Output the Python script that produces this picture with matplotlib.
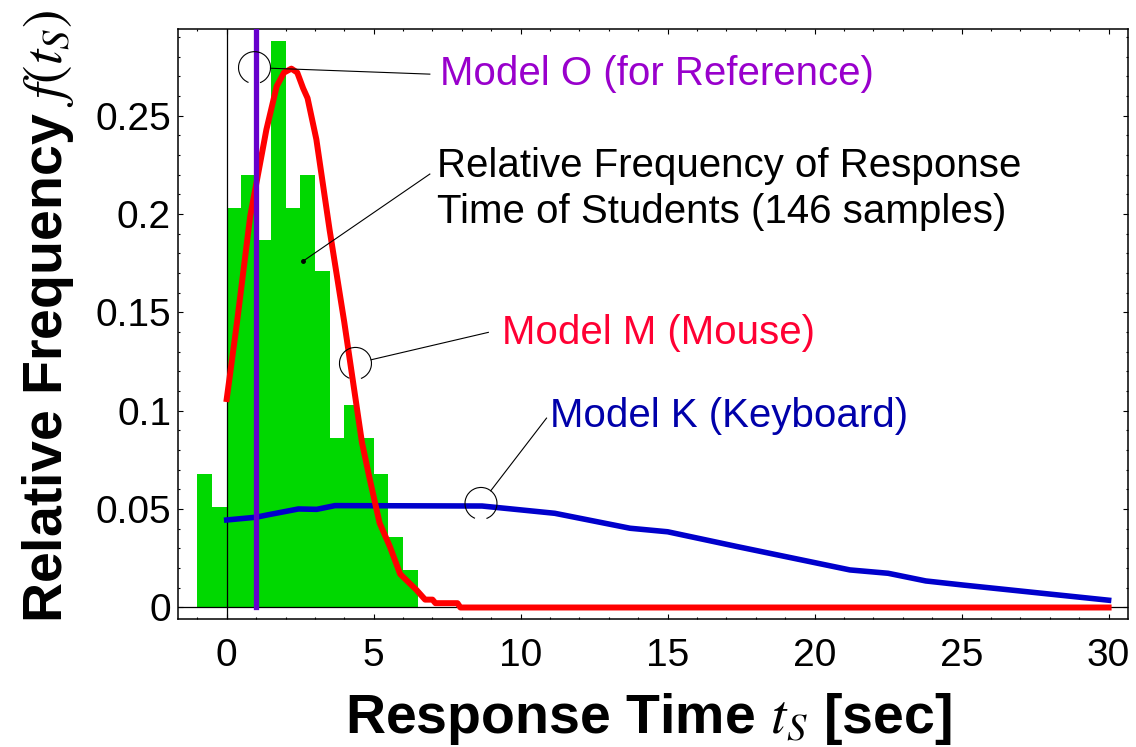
import matplotlib
matplotlib.use("Agg")
import matplotlib.pyplot as plt
import matplotlib.patches as mpatches
import matplotlib.transforms as mtransforms
from matplotlib.ticker import MultipleLocator, FuncFormatter
import numpy as np

plt.rcParams['font.family'] = ['Liberation Sans', 'DejaVu Sans']
plt.rcParams['mathtext.fontset'] = 'stix'

# relative frequency of student response times, bins of 0.5 s
bin_edges = [-1.0, -0.5, 0.0, 0.5, 1.0, 1.5, 2.0, 2.5, 3.0, 3.5, 4.0, 4.5, 5.0, 5.5, 6.0, 6.5]
rel_freq = [0.068, 0.051, 0.203, 0.220, 0.187, 0.288, 0.203, 0.220, 0.171,
            0.086, 0.103, 0.086, 0.068, 0.036, 0.019]

# Model M (mouse)
mouse_t = [0.0, 0.35, 0.8, 1.35, 1.7, 1.95, 2.2, 2.4, 2.6, 2.75, 3.05, 3.5, 4.0,
           4.6, 4.87, 5.2, 5.55, 5.9, 6.45, 6.75, 7.0, 7.1, 7.85, 7.95, 30.0]
mouse_f = [0.106, 0.145, 0.199, 0.243, 0.265, 0.272, 0.274, 0.272, 0.264, 0.259, 0.238, 0.192, 0.145,
           0.084, 0.065, 0.043, 0.031, 0.017, 0.009, 0.004, 0.004, 0.0022, 0.0022, 0.0, 0.0]

# Model K (keyboard)
key_t = [0.0, 1.0, 1.36, 2.44, 3.06, 3.68, 8.69, 11.16, 13.72, 15.0, 17.39, 21.2, 22.5, 23.78, 25.06, 30.0]
key_f = [0.0445, 0.0459, 0.047, 0.0501, 0.0499, 0.0518, 0.0516, 0.0479, 0.0403, 0.0385,
         0.0309, 0.0191, 0.0174, 0.0135, 0.0114, 0.0037]

# Model O (reference)
ref_t = 1.0

lbl_ref = "Model O (for Reference)"
lbl_hist = ["Relative Frequency of Response", "Time of Students (146 samples)"]
lbl_mouse = "Model M (Mouse)"
lbl_key = "Model K (Keyboard)"

fig = plt.figure(figsize=(11.36, 7.47), dpi=100)
ax = fig.add_axes([0.15643, 0.17135, 0.83653, 0.78943])
ax.set_xlim(-1.667, 30.66)
ax.set_ylim(-0.00585, 0.294)

ax.bar(bin_edges[:-1], rel_freq, width=np.diff(bin_edges), align='edge',
       color='#00D800', lw=0, zorder=1)
ax.axhline(0, color='k', lw=0.9, zorder=2)
ax.axvline(0, color='k', lw=0.9, zorder=2)

ax.plot(key_t, key_f, color='#0000CC', lw=4, solid_joinstyle='round', zorder=3)
ax.plot(mouse_t, mouse_f, color='#FF0000', lw=4.3, solid_joinstyle='round', zorder=4)
ax.plot([ref_t, ref_t], [0, 0.3], color='#6600CC', lw=3.8, solid_capstyle='projecting', zorder=5)

# callouts: circle (data), leader end (data)
r_px = 16


def callout(center, end):
    c = ax.transData.transform(center)
    e = ax.transData.transform(end)
    d = (e - c) / np.hypot(*(e - c)) * r_px
    s = ax.transData.inverted().transform(c + d)
    tr = fig.dpi_scale_trans + mtransforms.ScaledTranslation(center[0], center[1], ax.transData)
    arc = mpatches.Arc((0, 0), 2 * r_px / 100, 2 * r_px / 100, theta1=-70, theta2=248,
                       transform=tr, color='k', lw=0.8, zorder=6)
    ax.add_patch(arc)
    ax.plot([s[0], end[0]], [s[1], end[1]], color='k', lw=0.8, zorder=6)


callout((0.946, 0.2745), (6.91, 0.2712))
callout((4.38, 0.1241), (8.90, 0.1399))
callout((8.65, 0.0529), (10.88, 0.0963))

ax.plot([6.91, 2.605], [0.2204, 0.1762], color='k', lw=0.8, zorder=6)
ax.plot(2.605, 0.1762, 'o', color='k', ms=2.5, zorder=6)

fs = 29
ax.text(7.25, 0.2656, lbl_ref, color='#9900CC', fontsize=fs, va='baseline')
ax.text(7.15, 0.219, lbl_hist[0], color='k', fontsize=fs, va='baseline')
ax.text(7.15, 0.1953, lbl_hist[1], color='k', fontsize=fs, va='baseline')
ax.text(9.36, 0.1338, lbl_mouse, color='#FF0033', fontsize=fs, va='baseline')
ax.text(11.01, 0.0919, lbl_key, color='#0000AA', fontsize=fs, va='baseline')

ax.xaxis.set_major_locator(MultipleLocator(5))
ax.xaxis.set_minor_locator(MultipleLocator(1))
ax.yaxis.set_major_locator(MultipleLocator(0.05))
ax.yaxis.set_minor_locator(MultipleLocator(0.01))
fmt = FuncFormatter(lambda v, p: f"{round(v, 4):g}")
ax.xaxis.set_major_formatter(fmt)
ax.yaxis.set_major_formatter(fmt)
ax.tick_params(which='both', direction='in', top=True, right=True, width=0.8)
ax.tick_params(which='major', length=3.5)
ax.tick_params(which='minor', length=1.6)
ax.tick_params(axis='x', labelsize=28, pad=13.5)
ax.tick_params(axis='y', labelsize=28, pad=4.8)
for sp in ax.spines.values():
    sp.set_linewidth(1.1)

ax.set_xlabel(r"Response Time $t_S$ [sec]", fontsize=40, fontweight='bold', va='baseline')
ax.xaxis.set_label_coords(0.495, -0.1933)
ax.set_ylabel(r"Relative Frequency $f(t_S)$", fontsize=40, fontweight='bold', va='baseline')
ax.yaxis.set_label_coords(-0.122, 0.514)

fig.savefig("out.png", dpi=100)
